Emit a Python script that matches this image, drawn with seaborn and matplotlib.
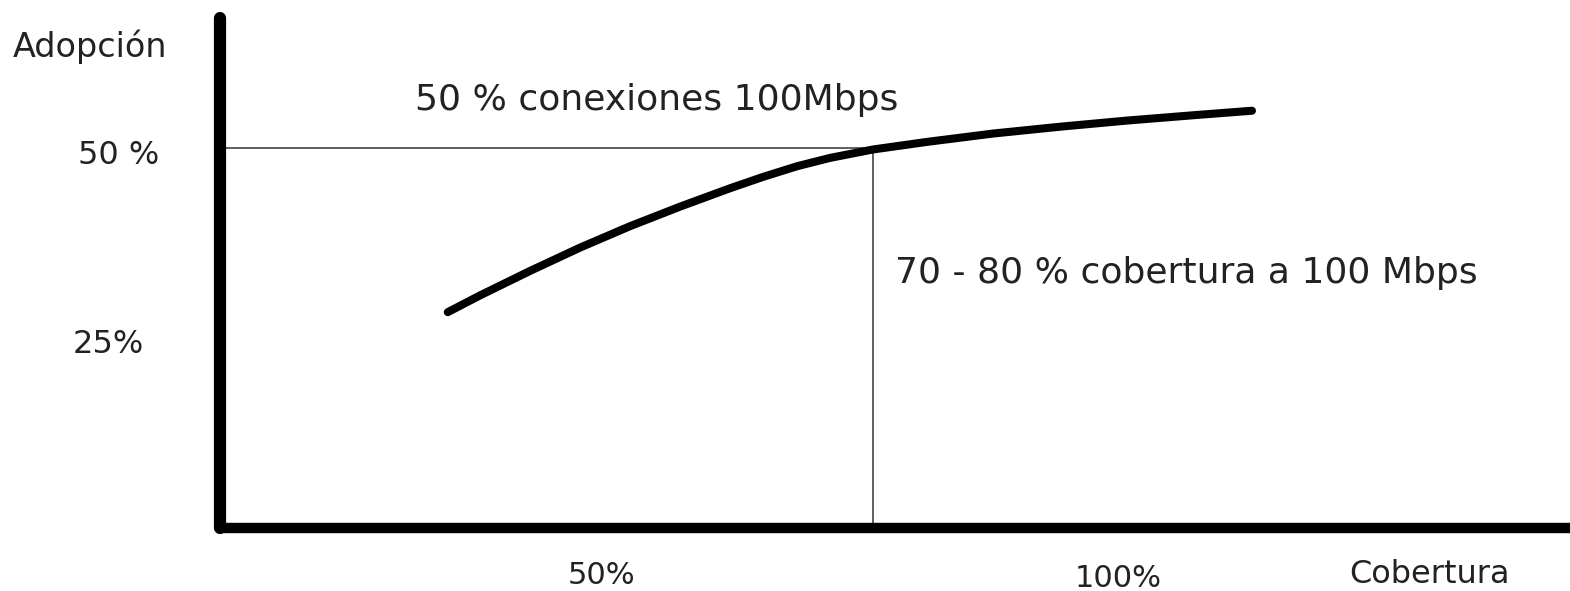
import pandas as pd
import matplotlib
matplotlib.use("Agg")
import matplotlib.pyplot as plt
import seaborn as sns

# Adoption curve (schematic): coverage % vs adoption %
cobertura = [26.2, 29.9, 35.6, 41.4, 47.1, 52.9, 58.6, 62.4, 66.3, 70.1,
             75.0, 81.2, 88.8, 96.5, 104.1, 111.7, 118.5]
adopcion = [28.4, 30.6, 33.8, 36.9, 39.7, 42.3, 44.7, 46.2, 47.6, 48.7,
            49.8, 50.8, 51.9, 52.8, 53.6, 54.3, 54.9]

# reference point: 50 % adoption at 70-80 % coverage
ref_x = 75.0
ref_y = 50.0

labels = ["Adopción", "50 %", "25%", "50 % conexiones 100Mbps",
          "70 - 80 % cobertura a 100 Mbps", "50%", "100%", "Cobertura"]

sns.set_style("white")
plt.rcParams['font.family'] = ['DejaVu Sans']

data = pd.DataFrame({"cobertura": cobertura, "adopcion": adopcion})

fig = plt.figure(figsize=(15.7, 5.91), dpi=100)
ax = fig.add_axes([219.5 / 1570, 63 / 591, 1 - 219.5 / 1570, 510 / 591])

# thin guide lines to the reference point
ax.plot([0, ref_x], [ref_y, ref_y], color="#333333", lw=1.1, zorder=2)
ax.plot([ref_x, ref_x], [0, ref_y], color="#333333", lw=1.1, zorder=2)

sns.lineplot(data=data, x="cobertura", y="adopcion", ax=ax, color="black",
             lw=5.8, solid_capstyle="round", solid_joinstyle="round", zorder=3)

ax.set_xlim(0, 155)
ax.set_ylim(0, 67.1)
ax.set_xticks([])
ax.set_yticks([])
ax.set_xlabel("")
ax.set_ylabel("")

for side in ["top", "right"]:
    ax.spines[side].set_visible(False)
ax.spines["left"].set_linewidth(8.8)
ax.spines["bottom"].set_linewidth(7.5)
for side in ["left", "bottom"]:
    ax.spines[side].set_color("black")
    ax.spines[side].set_capstyle("round")

# text positions (data units), left/baseline anchored
pos = [(-23.7, 62.0, 24), (-16.2, 47.9, 23), (-16.8, 23.0, 23),
       (22.4, 55.0, 26), (77.5, 32.2, 26),
       (40.0, -7.4, 22), (98.2, -7.8, 22), (129.7, -7.2, 23)]
for txt, (x, y, fs) in zip(labels, pos):
    ax.text(x, y, txt, fontsize=fs, color="#222222", ha="left", va="baseline",
            clip_on=False)

fig.savefig("out.png", dpi=100)
